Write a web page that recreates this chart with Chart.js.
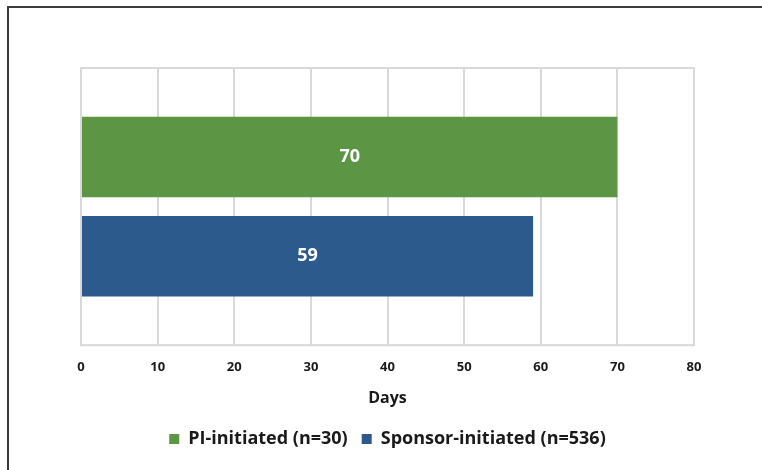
<!DOCTYPE html>
<html>
<head>
<meta charset="utf-8">
<script src="https://cdn.jsdelivr.net/npm/chart.js@4"></script>
<style>
  html, body { margin: 0; padding: 0; background: #fff; }
  #wrap { width: 762px; height: 470px; }
</style>
</head>
<body>
<div id="wrap"><canvas id="daysChart" width="762" height="470"></canvas></div>
<script>
const categories = [""];
const seriesNames = ["PI-initiated (n=30)", "Sponsor-initiated (n=536)"];
const piDays = [70];
const sponsorDays = [59];
const xTicks = [0, 10, 20, 30, 40, 50, 60, 70, 80];

// frame around the figure and a box around the plot
const framePlugin = {
  id: "frame",
  beforeDraw(chart) {
    const ctx = chart.ctx;
    ctx.save();
    ctx.strokeStyle = "#3c3c3c";
    ctx.lineWidth = 2;
    ctx.beginPath();
    ctx.moveTo(8, 470);
    ctx.lineTo(8, 7);
    ctx.lineTo(762, 7);
    ctx.stroke();
    ctx.restore();
  },
  afterDatasetsDraw(chart) {
    const a = chart.chartArea;
    const ctx = chart.ctx;
    ctx.save();
    ctx.strokeStyle = "#d9d9d9";
    ctx.lineWidth = 2;
    ctx.strokeRect(a.left, a.top, a.right - a.left, a.bottom - a.top);
    ctx.restore();
  }
};

// value written in the middle of each bar
const barLabels = {
  id: "barLabels",
  afterDatasetsDraw(chart) {
    const ctx = chart.ctx;
    ctx.save();
    ctx.fillStyle = "#ffffff";
    ctx.font = "bold 18px 'Open Sans'";
    ctx.textAlign = "center";
    ctx.textBaseline = "middle";
    chart.data.datasets.forEach((ds, i) => {
      chart.getDatasetMeta(i).data.forEach((bar, j) => {
        const x = (bar.base + bar.x) / 2;
        ctx.fillText(ds.data[j], x, bar.y);
      });
    });
    ctx.restore();
  }
};

new Chart("daysChart", {
  type: "bar",
  data: {
    labels: categories,
    datasets: [
      {
        label: seriesNames[0],
        data: piDays,
        backgroundColor: "#5c9645",
        categoryPercentage: 0.716,
        barPercentage: 0.81,
      },
      {
        label: seriesNames[1],
        data: sponsorDays,
        backgroundColor: "#2c5a8c",
        categoryPercentage: 0.716,
        barPercentage: 0.81,
      },
    ],
  },
  options: {
    indexAxis: "y",
    responsive: false,
    animation: false,
    layout: { padding: { left: 81, right: 68, top: 68, bottom: 12 } },
    scales: {
      x: {
        min: 0,
        max: 80,
        afterBuildTicks: (axis) => { axis.ticks = xTicks.map((v) => ({ value: v })); },
        grid: { color: "#d9d9d9", lineWidth: 2, drawTicks: false },
        border: { display: false },
        ticks: {
          padding: 14,
          color: "#1a1a1a",
          font: { family: "'Open Sans'", size: 13, weight: "bold" },
        },
        title: {
          display: true,
          text: "Days",
          color: "#1a1a1a",
          padding: { top: 0, bottom: 8 },
          font: { family: "'Open Sans'", size: 16, weight: "bold" },
        },
      },
      y: { display: false },
    },
    plugins: {
      legend: {
        position: "bottom",
        labels: {
          boxWidth: 10,
          boxHeight: 10,
          padding: 14,
          color: "#1a1a1a",
          font: { family: "'Open Sans'", size: 18, weight: "bold" },
        },
      },
      tooltip: { enabled: false },
    },
  },
  plugins: [framePlugin, barLabels],
});
</script>
</body>
</html>
